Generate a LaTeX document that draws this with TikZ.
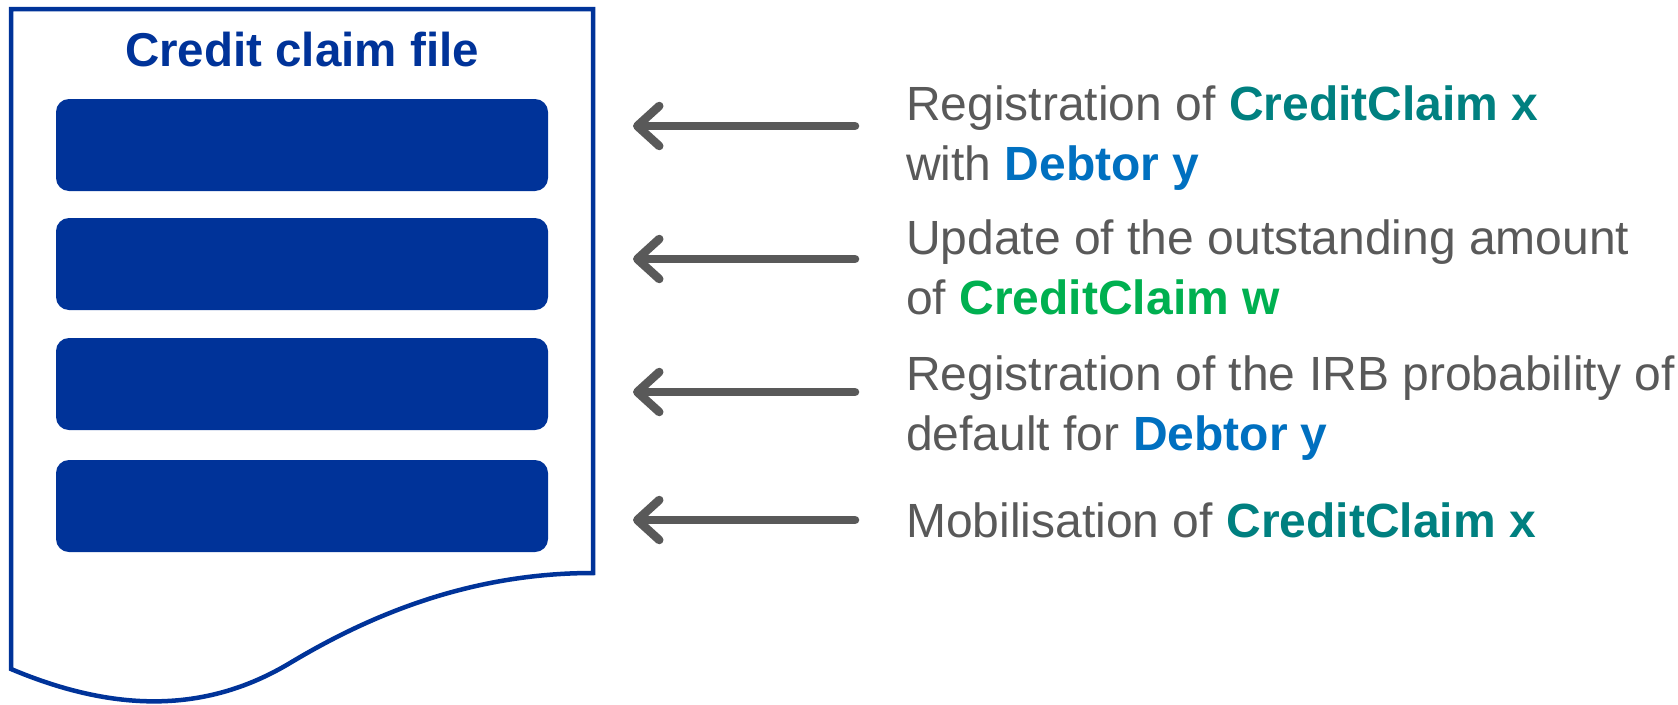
\documentclass[tikz,border=0pt]{standalone}
\usepackage{fontspec}
\setmainfont{Liberation Sans}
\usetikzlibrary{arrows.meta}
\definecolor{fileblue}{RGB}{0,51,153}
\definecolor{txtgray}{RGB}{89,89,89}
\definecolor{claimteal}{RGB}{0,128,128}
\definecolor{claimgreen}{RGB}{0,176,80}
\definecolor{debtorblue}{RGB}{0,112,192}
\newcommand{\claimx}{\textbf{\color{claimteal}CreditClaim x}}
\newcommand{\claimw}{\textbf{\color{claimgreen}CreditClaim w}}
\newcommand{\debtory}{\textbf{\color{debtorblue}Debtor y}}
\tikzset{
  record/.style={fill=fileblue,rounded corners=13pt},
  msg/.style={anchor=west,align=left,inner sep=0pt,text=txtgray,
    font=\fontsize{48}{60}\selectfont},
  feed/.style={draw=txtgray,line width=8.5pt,line cap=round,
    -{Straight Barb[length=22pt,width=40pt,round]}}
}
\begin{document}
\begin{tikzpicture}[x=1pt,y=-1pt]
\useasboundingbox (0,0) rectangle (1678,704);
% file sheet with wavy bottom
\draw[fileblue,line width=4.5pt,fill=white] (11,9) -- (593,9) -- (593,573)
  .. controls (470,573) and (370,615) .. (290,663)
  .. controls (210,711) and (120,715) .. (11,669) -- cycle;
\node[anchor=base,text=fileblue,font=\fontsize{47.5}{57}\selectfont\bfseries] (title) at (302,66) {Credit claim file};
\foreach \y [count=\i] in {99,218,338,460}
  \fill[record] (56,\y) rectangle (548,\y+92);
% messages
\node[msg] (m1) at (906,138) {Registration of \claimx\\with \debtory};
\node[msg] (m2) at (906,267) {Update of the outstanding amount\\of \claimw};
\node[msg] (m3) at (906,408) {Registration of the IRB probability of\\default for \debtory};
\node[msg] (m4) at (906,520) {Mobilisation of \claimx};
\foreach \y [count=\i] in {126,259,392,520} {
  \coordinate (s\i) at (855,\y);
  \coordinate (e\i) at (633,\y);
  \draw[feed] (s\i) -- (e\i);
}
\end{tikzpicture}
\end{document}
